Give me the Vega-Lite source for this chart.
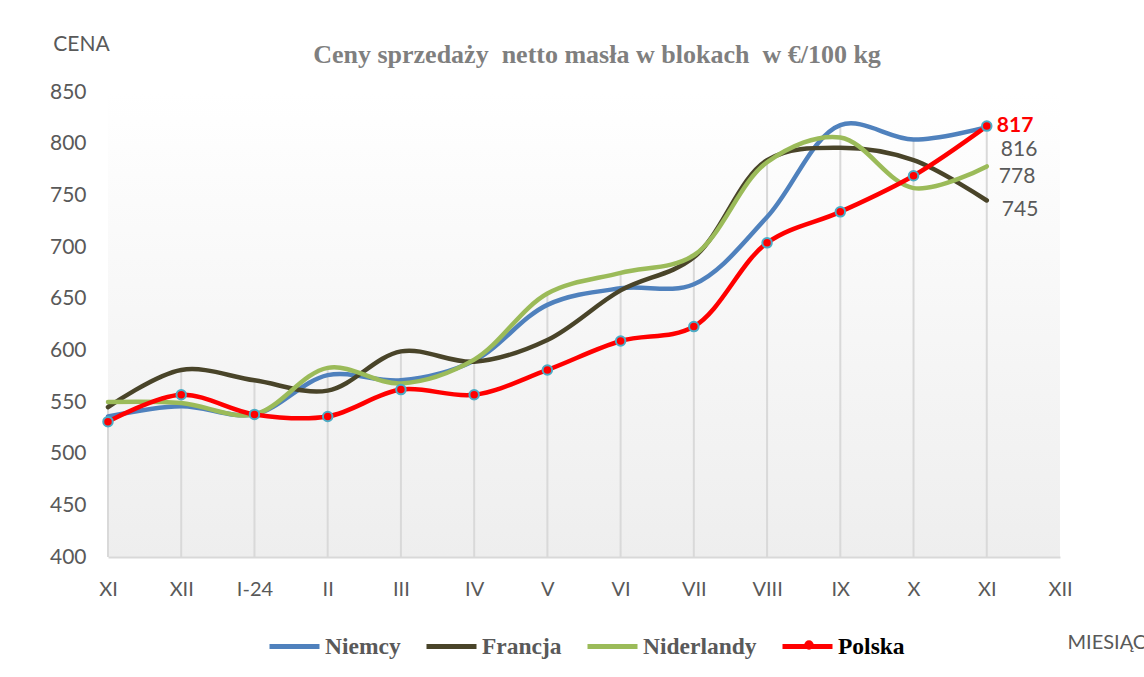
{
  "$schema": "https://vega.github.io/schema/vega-lite/v6.json",
  "width": 952,
  "height": 465,
  "autosize": {"type": "none"},
  "padding": {"left": 108, "top": 92, "right": 84, "bottom": 120},
  "background": "#ffffff",
  "config": {
    "font": "Lato",
    "view": {
      "stroke": null,
      "fill": {"gradient": "linear", "x1": 0, "y1": 0, "x2": 0, "y2": 1, "stops": [{"offset": 0, "color": "#ffffff"}, {"offset": 1, "color": "#eeeeee"}]}
    }
  },
  "title": {
    "text": "Ceny sprzedaży \u00a0netto masła w blokach \u00a0w €/100 kg",
    "font": "Liberation Serif",
    "fontSize": 26,
    "fontWeight": "bold",
    "color": "#7f7f7f",
    "anchor": "middle",
    "frame": "group",
    "dx": 13,
    "offset": 0,
    "dy": 56,
    "baseline": "alphabetic"
  },
  "data": {
    "values": [
      {"m": 0, "series": "Niemcy", "value": 536},
      {"m": 1, "series": "Niemcy", "value": 546},
      {"m": 2, "series": "Niemcy", "value": 538},
      {"m": 3, "series": "Niemcy", "value": 576},
      {"m": 4, "series": "Niemcy", "value": 571},
      {"m": 5, "series": "Niemcy", "value": 590},
      {"m": 6, "series": "Niemcy", "value": 644},
      {"m": 7, "series": "Niemcy", "value": 660},
      {"m": 8, "series": "Niemcy", "value": 664},
      {"m": 9, "series": "Niemcy", "value": 729},
      {"m": 10, "series": "Niemcy", "value": 818},
      {"m": 11, "series": "Niemcy", "value": 804},
      {"m": 12, "series": "Niemcy", "value": 816},
      {"m": 0, "series": "Francja", "value": 545},
      {"m": 1, "series": "Francja", "value": 581},
      {"m": 2, "series": "Francja", "value": 571},
      {"m": 3, "series": "Francja", "value": 561},
      {"m": 4, "series": "Francja", "value": 599},
      {"m": 5, "series": "Francja", "value": 589},
      {"m": 6, "series": "Francja", "value": 610},
      {"m": 7, "series": "Francja", "value": 658},
      {"m": 8, "series": "Francja", "value": 690},
      {"m": 9, "series": "Francja", "value": 784},
      {"m": 10, "series": "Francja", "value": 796},
      {"m": 11, "series": "Francja", "value": 784},
      {"m": 12, "series": "Francja", "value": 745},
      {"m": 0, "series": "Niderlandy", "value": 550},
      {"m": 1, "series": "Niderlandy", "value": 549},
      {"m": 2, "series": "Niderlandy", "value": 538},
      {"m": 3, "series": "Niderlandy", "value": 583},
      {"m": 4, "series": "Niderlandy", "value": 568},
      {"m": 5, "series": "Niderlandy", "value": 591},
      {"m": 6, "series": "Niderlandy", "value": 655},
      {"m": 7, "series": "Niderlandy", "value": 675},
      {"m": 8, "series": "Niderlandy", "value": 692},
      {"m": 9, "series": "Niderlandy", "value": 782},
      {"m": 10, "series": "Niderlandy", "value": 806},
      {"m": 11, "series": "Niderlandy", "value": 757},
      {"m": 12, "series": "Niderlandy", "value": 778},
      {"m": 0, "series": "Polska", "value": 531},
      {"m": 1, "series": "Polska", "value": 557},
      {"m": 2, "series": "Polska", "value": 538},
      {"m": 3, "series": "Polska", "value": 536},
      {"m": 4, "series": "Polska", "value": 562},
      {"m": 5, "series": "Polska", "value": 557},
      {"m": 6, "series": "Polska", "value": 581},
      {"m": 7, "series": "Polska", "value": 609},
      {"m": 8, "series": "Polska", "value": 623},
      {"m": 9, "series": "Polska", "value": 704},
      {"m": 10, "series": "Polska", "value": 734},
      {"m": 11, "series": "Polska", "value": 769},
      {"m": 12, "series": "Polska", "value": 817}
    ]
  },
  "encoding": {
    "x": {
      "field": "m",
      "type": "quantitative",
      "scale": {"domain": [0, 13], "nice": false, "zero": false},
      "axis": {
        "values": [0, 1, 2, 3, 4, 5, 6, 7, 8, 9, 10, 11, 12, 13],
        "labelExpr": "['XI','XII','I-24','II','III','IV','V','VI','VII','VIII','IX','X','XI','XII'][datum.value]",
        "ticks": false,
        "grid": false,
        "domainColor": "#d9d9d9",
        "domainWidth": 2,
        "labelFont": "Lato",
        "labelFontSize": 20,
        "labelColor": "#595959",
        "labelPadding": 22,
        "labelFlush": false,
        "labelOverlap": false,
        "labelBaseline": "top",
        "title": "MIESIĄC",
        "titleX": 959,
        "titleY": 85,
        "titleAlign": "left",
        "titleBaseline": "middle",
        "titleFont": "Lato",
        "titleFontSize": 20,
        "titleFontWeight": "normal",
        "titleColor": "#595959"
      }
    },
    "y": {
      "field": "value",
      "type": "quantitative",
      "scale": {"domain": [400, 850], "nice": false, "zero": false},
      "axis": {
        "values": [400, 450, 500, 550, 600, 650, 700, 750, 800, 850],
        "ticks": false,
        "grid": false,
        "domain": false,
        "labelFont": "Lato",
        "labelFontSize": 21,
        "labelColor": "#595959",
        "labelPadding": 22,
        "labelFlush": false,
        "title": "CENA",
        "titleAngle": 0,
        "titleX": -27,
        "titleY": -48,
        "titleAlign": "center",
        "titleBaseline": "middle",
        "titleFont": "Lato",
        "titleFontSize": 21,
        "titleFontWeight": "normal",
        "titleColor": "#595959"
      }
    }
  },
  "layer": [
    {
      "transform": [{"aggregate": [{"op": "max", "field": "value", "as": "value"}], "groupby": ["m"]}],
      "mark": {"type": "rule", "color": "#d9d9d9", "strokeWidth": 2},
      "encoding": {"y2": {"datum": 400}}
    },
    {
      "mark": {"type": "line", "interpolate": "catmull-rom", "strokeWidth": 4.5, "strokeCap": "round"},
      "encoding": {
        "color": {
          "field": "series",
          "type": "nominal",
          "sort": null,
          "scale": {"domain": ["Niemcy", "Francja", "Niderlandy", "Polska"], "range": ["#4f81bd", "#494429", "#9bbb59", "#ff0000"]},
          "legend": {
            "orient": "none",
            "direction": "horizontal",
            "legendX": 159,
            "legendY": 527,
            "title": null,
            "symbolType": "stroke",
            "symbolSize": 2500,
            "symbolStrokeWidth": 5,
            "labelFont": "Liberation Serif",
            "labelFontSize": 23.5,
            "labelFontWeight": "bold",
            "labelColor": "#595959",
            "labelOffset": 3,
            "columnPadding": 15,
            "padding": 0,
            "labelLimit": 0,
            "encode": {"labels": {"update": {"fill": {"signal": "datum.label === 'Polska' ? '#000000' : '#595959'"}}}}
          }
        }
      }
    },
    {
      "transform": [{"filter": "datum.series === 'Polska'"}],
      "mark": {"type": "point", "filled": true, "fill": "#ff0000", "stroke": "#4bacc6", "strokeWidth": 2, "size": 90, "opacity": 1},
      "encoding": {
        "shape": {
          "field": "series",
          "type": "nominal",
          "scale": {"range": ["circle"]},
          "legend": {
            "orient": "none",
            "legendX": 695,
            "legendY": 547,
            "title": null,
            "padding": 0,
            "symbolSize": 90,
            "symbolFillColor": "#ff0000",
            "symbolStrokeColor": "#4bacc6",
            "symbolStrokeWidth": 2,
            "labelExpr": "''",
            "labelFontSize": 1
          }
        }
      }
    },
    {
      "transform": [{"filter": "datum.m === 12 && datum.series === 'Polska'"}],
      "mark": {"type": "text", "align": "left", "baseline": "middle", "dx": 10, "font": "Lato", "fontWeight": "bold", "fontSize": 21, "color": "#ff0000"},
      "encoding": {"text": {"field": "value", "type": "quantitative"}}
    },
    {
      "transform": [{"filter": "datum.m === 12 && datum.series === 'Niemcy'"}],
      "mark": {"type": "text", "align": "left", "baseline": "middle", "dx": 14, "dy": 23, "font": "Lato", "fontSize": 21, "color": "#595959"},
      "encoding": {"text": {"field": "value", "type": "quantitative"}}
    },
    {
      "transform": [{"filter": "datum.m === 12 && datum.series === 'Niderlandy'"}],
      "mark": {"type": "text", "align": "left", "baseline": "middle", "dx": 12, "dy": 11, "font": "Lato", "fontSize": 21, "color": "#595959"},
      "encoding": {"text": {"field": "value", "type": "quantitative"}}
    },
    {
      "transform": [{"filter": "datum.m === 12 && datum.series === 'Francja'"}],
      "mark": {"type": "text", "align": "left", "baseline": "middle", "dx": 15, "dy": 9, "font": "Lato", "fontSize": 21, "color": "#595959"},
      "encoding": {"text": {"field": "value", "type": "quantitative"}}
    }
  ]
}
